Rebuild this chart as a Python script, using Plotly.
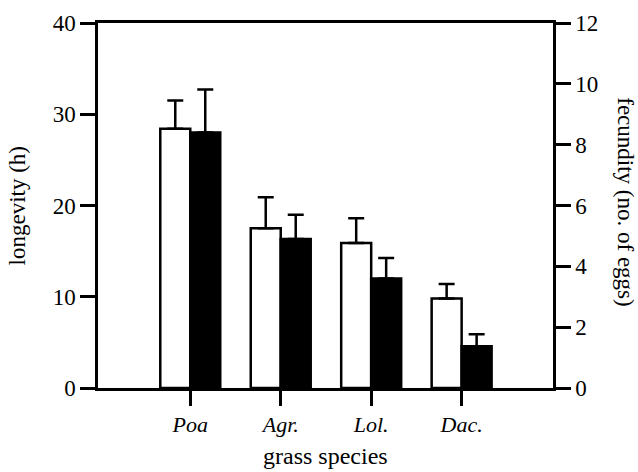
import plotly.graph_objects as go

species = ["Poa", "Agr.", "Lol.", "Dac."]
longevity = [28.4, 17.5, 15.9, 9.8]
longevity_err = [3.1, 3.4, 2.7, 1.6]
fecundity = [8.4, 4.9, 3.6, 1.37]
fecundity_err = [1.41, 0.8, 0.67, 0.4]
left_ticks = [0, 10, 20, 30, 40]
right_ticks = [0, 2, 4, 6, 8, 10, 12]

FONT = "Liberation Serif"
W = 2.5
TICKFONT = dict(family=FONT, size=23, color="black")

fig = go.Figure()
fig.add_trace(go.Bar(
    x=species, y=longevity, yaxis="y", offsetgroup="1", alignmentgroup="g",
    marker=dict(color="white", line=dict(color="black", width=W)),
    error_y=dict(type="data", array=longevity_err, arrayminus=[0] * len(species),
                 symmetric=False, color="black", thickness=W, width=8),
    showlegend=False,
))
fig.add_trace(go.Bar(
    x=species, y=fecundity, yaxis="y2", offsetgroup="2", alignmentgroup="g",
    marker=dict(color="black", line=dict(color="black", width=W)),
    error_y=dict(type="data", array=fecundity_err, arrayminus=[0] * len(species),
                 symmetric=False, color="black", thickness=W, width=8),
    showlegend=False,
))

fig.update_layout(
    width=638, height=472,
    margin=dict(l=97.7, r=85.3, t=22.7, b=83.7, autoexpand=False),
    paper_bgcolor="white", plot_bgcolor="white",
    barmode="group", bargap=0.337, bargroupgap=0,
    font=dict(family=FONT, color="black", size=22),
    xaxis=dict(
        type="category", range=[-1.02, 4.01], automargin=False,
        tickvals=species, ticktext=[f"<i>{s}</i>" for s in species],
        showline=True, linecolor="black", linewidth=W, mirror=True,
        ticks="outside", ticklen=15, tickwidth=W, tickcolor="black",
        showgrid=False, zeroline=False,
        tickfont=dict(family=FONT, size=22, color="black"),
    ),
    yaxis=dict(
        range=[0, 40], tickvals=left_ticks, automargin=False,
        showline=True, linecolor="black", linewidth=W,
        ticks="outside", ticklen=15, tickwidth=W, tickcolor="black",
        showgrid=False, zeroline=False, tickfont=TICKFONT,
    ),
    yaxis2=dict(
        range=[0, 12], tickvals=right_ticks, overlaying="y", side="right", automargin=False,
        showline=True, linecolor="black", linewidth=W,
        ticks="outside", ticklen=15, tickwidth=W, tickcolor="black",
        showgrid=False, zeroline=False, tickfont=TICKFONT,
    ),
    annotations=[
        dict(text="longevity (h)", xref="paper", yref="paper", x=-0.176, y=0.5,
             xanchor="center", yanchor="middle", textangle=-90, showarrow=False,
             font=dict(family=FONT, size=23, color="black")),
        dict(text="fecundity (no. of eggs)", xref="paper", yref="paper", x=1.159, y=0.508,
             xanchor="center", yanchor="middle", textangle=90, showarrow=False,
             font=dict(family=FONT, size=23, color="black")),
        dict(text="grass species", xref="paper", yref="paper", x=0.5, y=-0.185,
             xanchor="center", yanchor="middle", showarrow=False,
             font=dict(family=FONT, size=24, color="black")),
    ],
)

fig.write_html(
    "out.html",
    config={"displayModeBar": False},
    post_script="document.body.style.margin='0';document.body.style.overflow='hidden';",
)
